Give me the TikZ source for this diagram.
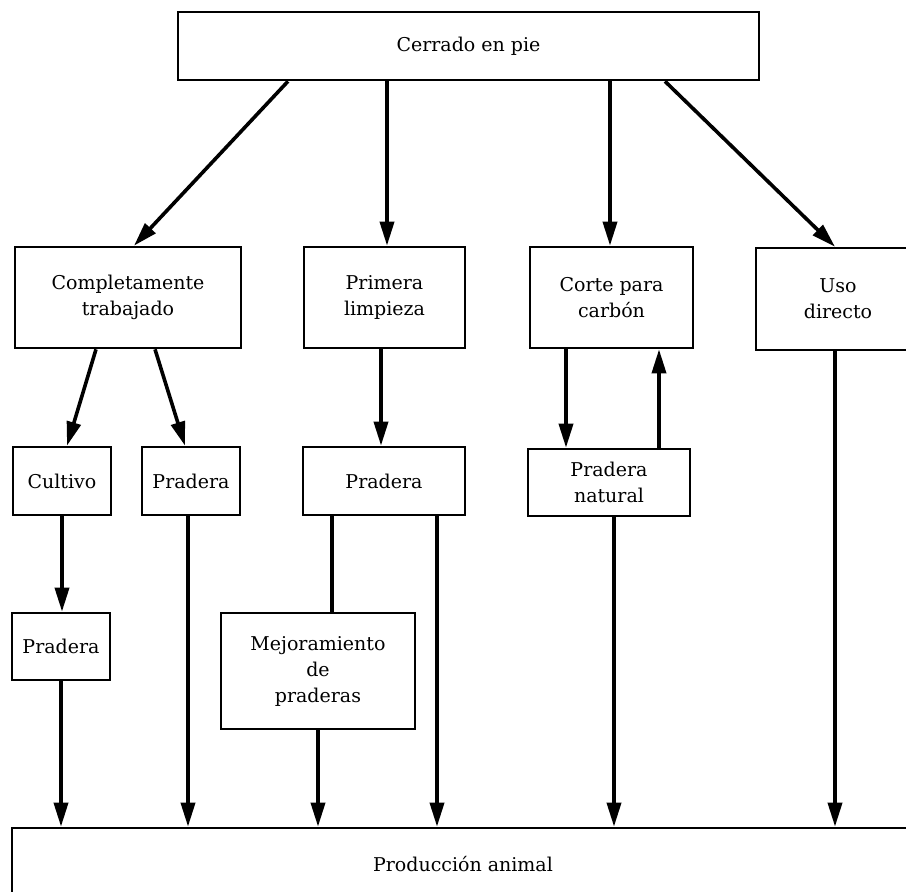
\documentclass[tikz,border=0pt]{standalone}
\usepackage{fontspec}
\setmainfont{DejaVu Serif}
\usetikzlibrary{arrows.meta,calc}
\tikzset{
  box/.style={draw, line width=2.6pt, inner sep=0pt, align=center,
    font=\fontsize{19pt}{26pt}\selectfont},
  arr/.style={line width=3.6pt, -{Triangle[length=24pt,width=14pt]}},
  plain/.style={line width=3.6pt}
}
\begin{document}
\begin{tikzpicture}[x=1pt,y=-1pt]
\useasboundingbox (0,0) rectangle (906,892);
\fill[white] (0,0) rectangle (906,892);
\clip (0,0) rectangle (906,892);
% nodes
\node[box, minimum width=581pt, minimum height=68pt] (cer) at (468.5,46) {Cerrado en pie};
\node[box, minimum width=226pt, minimum height=101pt] (comp) at (128,297.5) {Completamente\\trabajado};
\node[box, minimum width=161pt, minimum height=101pt] (prim) at (384.5,297.5) {Primera\\limpieza};
\node[box, minimum width=163pt, minimum height=101pt] (corte) at (611.5,297.5) {Corte para\\carbón};
\node[box, minimum width=164pt, minimum height=102pt] (uso) at (838,299) {Uso\\directo};
\node[box, minimum width=98pt, minimum height=68pt] (cult) at (62,481) {Cultivo};
\node[box, minimum width=98pt, minimum height=68pt] (prad2) at (191,481) {Pradera};
\node[box, minimum width=162pt, minimum height=68pt] (prad3) at (384,481) {Pradera};
\node[box, minimum width=162pt, minimum height=67pt] (pnat) at (609,482.5) {Pradera\\natural};
\node[box, minimum width=98pt, minimum height=67pt] (prad4) at (61,646.5) {Pradera};
\node[box, minimum width=194pt, minimum height=116pt] (mej) at (318,671) {Mejoramiento\\de\\praderas};
\node[box, minimum width=902pt, minimum height=72pt] (prod) at (463,864) {Producción animal};
% connectors from the top box
\draw[arr] ([xshift=-180.5pt]cer.south) -- ([xshift=6pt]comp.north);
\coordinate (tp) at ([xshift=2.5pt]prim.north);
\draw[arr] (cer.south -| tp) -- (tp);
\coordinate (tc) at ([xshift=-1.5pt]corte.north);
\draw[arr] (cer.south -| tc) -- (tc);
\draw[arr] ([xshift=196.5pt]cer.south) -- ([xshift=-3pt]uso.north);
% second row
\draw[arr] ([xshift=-32pt]comp.south) -- ([xshift=5pt]cult.north);
\draw[arr] ([xshift=27pt]comp.south) -- ([xshift=-6pt]prad2.north);
\coordinate (tp3) at ([xshift=-3pt]prad3.north);
\draw[arr] (prim.south -| tp3) -- (tp3);
\coordinate (cd) at ([xshift=-45.5pt]corte.south);
\draw[arr] (cd) -- (cd |- pnat.north);
\coordinate (cu) at ([xshift=47.5pt]corte.south);
\draw[arr] (cu |- pnat.north) -- (cu);
\coordinate (us) at ([xshift=-3pt]uso.south);
\draw[arr] (us) -- (us |- prod.north);
% third row
\draw[arr] (cult.south) -- (cult.south |- prad4.north);
\draw[arr] (prad4.south) -- (prad4.south |- prod.north);
\coordinate (p2s) at ([xshift=-3pt]prad2.south);
\draw[arr] (p2s) -- (p2s |- prod.north);
\coordinate (p3a) at ([xshift=-52pt]prad3.south);
\draw[plain] (p3a) -- (p3a |- mej.north);
\draw[arr] (mej.south) -- (mej.south |- prod.north);
\coordinate (p3b) at ([xshift=53pt]prad3.south);
\draw[arr] (p3b) -- (p3b |- prod.north);
\coordinate (pns) at ([xshift=5pt]pnat.south);
\draw[arr] (pns) -- (pns |- prod.north);
\end{tikzpicture}
\end{document}
